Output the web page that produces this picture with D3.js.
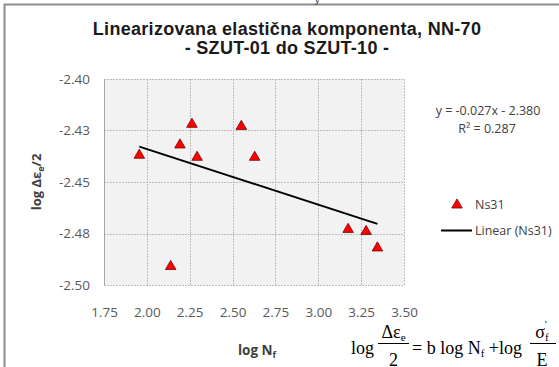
<!DOCTYPE html>
<html><head><meta charset="utf-8">
<script src="https://cdn.jsdelivr.net/npm/d3@7"></script>
<style>body{margin:0;background:#fff}svg{display:block}</style>
</head><body>
<svg id="c" width="559" height="367"></svg>
<script>
const logN = [1.956, 2.139, 2.193, 2.263, 2.293, 2.551, 2.629, 3.174, 3.279, 3.345];
const logEps = [-2.437, -2.491, -2.432, -2.422, -2.438, -2.423, -2.438, -2.473, -2.474, -2.482];
const trendSlope = -0.027;
const trendIntercept = -2.380;
const xTicks = [1.75, 2.00, 2.25, 2.50, 2.75, 3.00, 3.25, 3.50];
const yTicks = [-2.400, -2.425, -2.450, -2.475, -2.500];
const yTickLabels = ["-2.40", "-2.43", "-2.45", "-2.48", "-2.50"];
const xTickLabels = ["1.75", "2.00", "2.25", "2.50", "2.75", "3.00", "3.25", "3.50"];
const titleLines = ["Linearizovana elastična komponenta, NN-70", "- SZUT-01 do SZUT-10 -"];

const svg = d3.select("#c");
const plot = {l: 104, r: 404, t: 79, b: 285};
const x = d3.scaleLinear().domain([1.75, 3.5]).range([plot.l, plot.r]);
const y = d3.scaleLinear().domain([-2.5, -2.4]).range([plot.b, plot.t]);

// outer chart border
svg.append("rect").attr("x", 4.5).attr("y", 4.5).attr("width", 600).attr("height", 400)
  .attr("fill", "#fff").attr("stroke", "#8c8c8c").attr("stroke-width", 2);
svg.append("text").attr("x", 315).attr("y", 3).attr("font-family", "Liberation Sans")
  .attr("font-size", 9).attr("fill", "#333").text("y");

// title
titleLines.forEach((t, i) => {
  svg.append("text").attr("x", 287).attr("y", 35 + i * 19).attr("text-anchor", "middle")
    .attr("font-family", "Liberation Sans, Arial").attr("font-weight", "bold")
    .attr("font-size", 18).attr("letter-spacing", 0.3).attr("fill", "#1a1a1a").text(t);
});

// plot area
svg.append("rect").attr("x", plot.l).attr("y", plot.t).attr("width", plot.r - plot.l)
  .attr("height", plot.b - plot.t).attr("fill", "#f2f2f2");

// grid
const grid = svg.append("g").attr("stroke", "#bdbdbd").attr("stroke-dasharray", "2,1").attr("stroke-width", 1);
grid.selectAll("line.v").data(xTicks).join("line").attr("class", "v")
  .attr("x1", d => Math.round(x(d)) + 0.5).attr("x2", d => Math.round(x(d)) + 0.5)
  .attr("y1", plot.t).attr("y2", plot.b);
grid.selectAll("line.h").data(yTicks).join("line").attr("class", "h")
  .attr("y1", d => Math.round(y(d)) + 0.5).attr("y2", d => Math.round(y(d)) + 0.5)
  .attr("x1", plot.l).attr("x2", plot.r);
svg.append("line").attr("x1", plot.l + 0.5).attr("x2", plot.l + 0.5).attr("y1", plot.t).attr("y2", plot.b)
  .attr("stroke", "#a6a6a6");

// axes (labels only)
const xAxis = d3.axisBottom(x).tickValues(xTicks).tickSize(0).tickPadding(0)
  .tickFormat((d, i) => xTickLabels[i]);
const gx = svg.append("g").attr("transform", `translate(0,${plot.b + 22})`).call(xAxis);
gx.select(".domain").remove();
gx.selectAll("text").attr("font-family", "Open Sans").attr("font-size", 13.5).attr("fill", "#595959");

const yAxis = d3.axisLeft(y).tickValues(yTicks).tickSize(0).tickPadding(0)
  .tickFormat((d, i) => yTickLabels[i]);
const gy = svg.append("g").attr("transform", `translate(${plot.l - 14},0)`).call(yAxis);
gy.select(".domain").remove();
gy.selectAll("text").attr("font-family", "Open Sans").attr("font-size", 13.5).attr("fill", "#595959");

// axis titles
const yt = svg.append("text").attr("transform", "translate(41,182) rotate(-90)").attr("text-anchor", "middle")
  .attr("font-family", "Open Sans").attr("font-weight", "bold").attr("font-size", 13).attr("fill", "#404040");
yt.append("tspan").text("log Δε");
yt.append("tspan").attr("font-size", 9).attr("dy", 3).text("e");
yt.append("tspan").attr("dy", -3).text("/2");
const xt = svg.append("text").attr("x", 257).attr("y", 355).attr("text-anchor", "middle")
  .attr("font-family", "Open Sans").attr("font-weight", "bold").attr("font-size", 13.5).attr("fill", "#404040");
xt.append("tspan").text("log  N");
xt.append("tspan").attr("font-size", 9).attr("dy", 3).text("f");

// trendline
const xMin = d3.min(logN), xMax = d3.max(logN);
svg.append("line").attr("x1", x(xMin)).attr("y1", y(trendSlope * xMin + trendIntercept))
  .attr("x2", x(xMax)).attr("y2", y(trendSlope * xMax + trendIntercept))
  .attr("stroke", "#000").attr("stroke-width", 2);

// points
const tri = d3.symbol().type(d3.symbolTriangle).size(48);
svg.selectAll("path.pt").data(logN).join("path").attr("class", "pt")
  .attr("d", tri).attr("transform", (d, i) => `translate(${x(d)},${y(logEps[i])})`)
  .attr("fill", "#ff0000").attr("stroke", "#7a0000").attr("stroke-width", 0.8);

// equation
const eq = svg.append("g").attr("font-family", "Open Sans").attr("font-size", 12.5).attr("fill", "#404040").attr("text-anchor", "middle");
eq.append("text").attr("x", 488).attr("y", 115).text(`y = ${trendSlope.toFixed(3)}x - ${Math.abs(trendIntercept).toFixed(3)}`);
const r2 = eq.append("text").attr("x", 487).attr("y", 133);
r2.append("tspan").text("R² = 0.287");

// legend
const lg = svg.append("g").attr("font-family", "Open Sans").attr("font-size", 12.5).attr("fill", "#404040");
lg.append("path").attr("d", tri).attr("transform", "translate(457,205)")
  .attr("fill", "#ff0000").attr("stroke", "#7a0000").attr("stroke-width", 0.8);
lg.append("text").attr("x", 475).attr("y", 209).text("Ns31");
lg.append("line").attr("x1", 441).attr("x2", 472).attr("y1", 230.5).attr("y2", 230.5).attr("stroke", "#000").attr("stroke-width", 2);
lg.append("text").attr("x", 475).attr("y", 235).text("Linear (Ns31)");

// formula
const f = svg.append("g").attr("font-family", "Liberation Serif, Times New Roman").attr("fill", "#000").attr("font-size", 18);
f.append("text").attr("x", 351).attr("y", 354).text("log");
const num = f.append("text").attr("x", 393.5).attr("y", 338).attr("text-anchor", "middle");
num.append("tspan").text("Δε");
num.append("tspan").attr("font-size", 11).attr("dy", 3).text("e");
f.append("line").attr("x1", 378).attr("x2", 409).attr("y1", 343.5).attr("y2", 343.5).attr("stroke", "#000").attr("stroke-width", 1);
f.append("text").attr("x", 393.5).attr("y", 366).attr("text-anchor", "middle").text("2");
const mid = f.append("text").attr("x", 412).attr("y", 354);
mid.append("tspan").text("= b log N");
mid.append("tspan").attr("font-size", 11).attr("dy", 3).text("f");
mid.append("tspan").attr("dy", -3).text(" +log");
const num2 = f.append("text").attr("x", 542).attr("y", 338).attr("text-anchor", "middle");
num2.append("tspan").text("σ");
num2.append("tspan").attr("font-size", 11).attr("dy", 3).text("f");
num2.append("tspan").attr("font-size", 11).attr("dy", -13).attr("dx", -4).text("'");
f.append("line").attr("x1", 530).attr("x2", 556).attr("y1", 343.5).attr("y2", 343.5).attr("stroke", "#000").attr("stroke-width", 1);
f.append("text").attr("x", 542).attr("y", 366).attr("text-anchor", "middle").text("E");
</script>
</body></html>
